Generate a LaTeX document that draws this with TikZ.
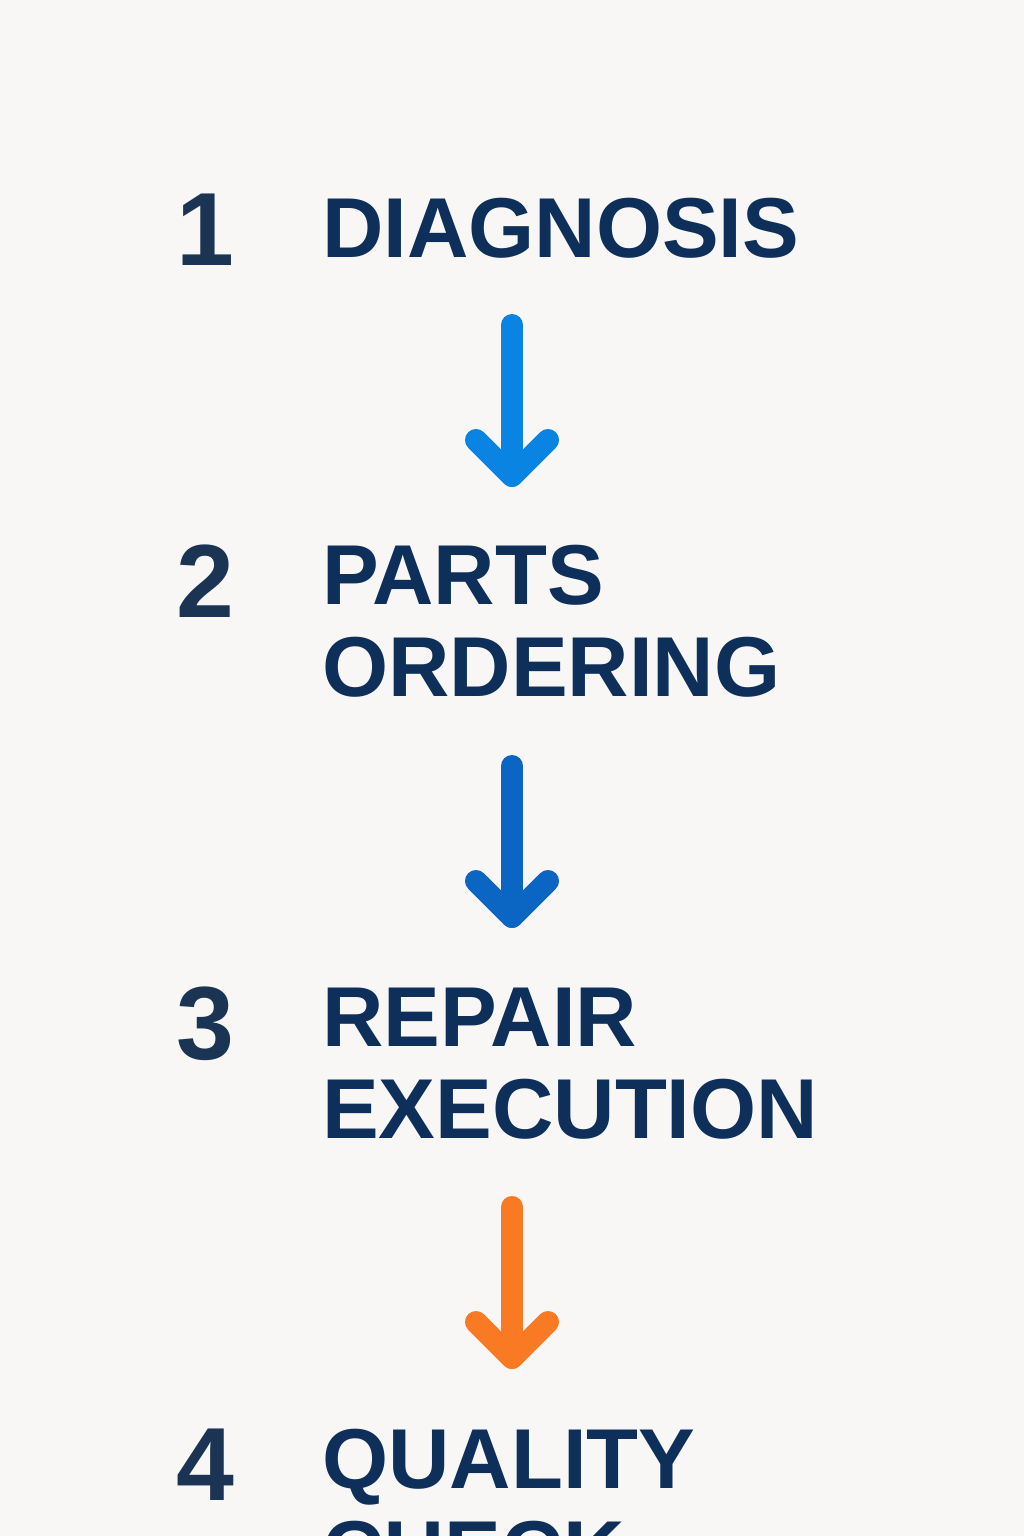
\documentclass[tikz,border=0pt]{standalone}
\usepackage{fontspec}
\setmainfont{Liberation Sans}
\definecolor{bg}{HTML}{F8F7F5}
\definecolor{navy}{HTML}{0E2F5A}
\definecolor{numc}{HTML}{1B3453}
\definecolor{aone}{HTML}{0A84E2}
\definecolor{atwo}{HTML}{0A66C2}
\definecolor{athree}{HTML}{F97A22}
\begin{document}
\begin{tikzpicture}[x=1pt,y=-1pt,
  lbl/.style={anchor=base west,inner sep=0,text=navy,font=\fontsize{85}{92}\selectfont\bfseries},
  num/.style={anchor=base west,inner sep=0,text=numc,font=\fontsize{104}{110}\selectfont\bfseries},
  flow/.style={line width=22pt,line cap=round,line join=round}]
\fill[bg] (0,0) rectangle (1024,1536);
\useasboundingbox (0,0) rectangle (1024,1536);
\node[num] (n1) at (176,265) {1};
\node[lbl] (t1) at (322,257) {DIAGNOSIS};
\node[num] (n2) at (176,617) {2};
\node[lbl] (t2a) at (322,604) {PARTS};
\node[lbl] (t2b) at (322,696) {ORDERING};
\node[num] (n3) at (176,1059) {3};
\node[lbl] (t3a) at (322,1046) {REPAIR};
\node[lbl] (t3b) at (322,1138) {EXECUTION};
\node[num] (n4) at (176,1500) {4};
\node[lbl] (t4a) at (322,1488) {QUALITY};
\node[lbl] (t4b) at (322,1580) {CHECK};
\foreach \c/\s/\e in {aone/325/476, atwo/766/917, athree/1207/1358}{
  \coordinate (s) at (512,\s);
  \coordinate (e) at (512,\e);
  \draw[flow,\c] (s) -- (e);
  \draw[flow,\c] ([xshift=-36pt,yshift=36pt]e) -- (e) -- ([xshift=36pt,yshift=36pt]e);
}
\end{tikzpicture}
\end{document}
